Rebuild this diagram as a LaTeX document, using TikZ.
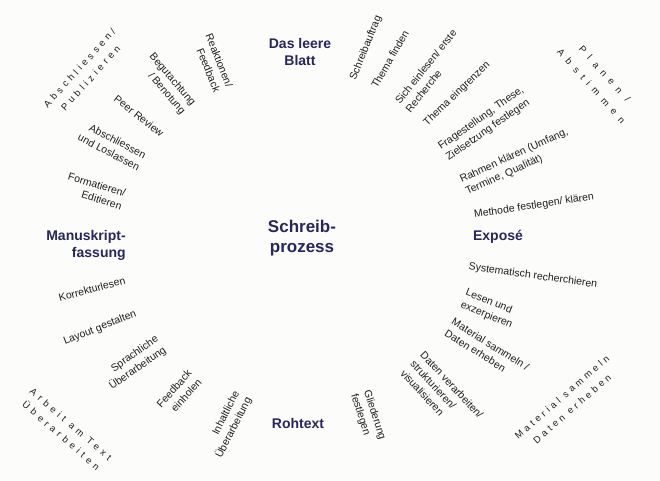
\documentclass[tikz,border=0pt]{standalone}
\usepackage{fontspec}
\setmainfont{Liberation Sans}
\newfontfamily\spacedA[LetterSpace=38]{Liberation Sans}
\newfontfamily\spacedB[LetterSpace=64]{Liberation Sans}
\newfontfamily\spacedC[LetterSpace=35]{Liberation Sans}
\newfontfamily\spacedD[LetterSpace=42]{Liberation Sans}
\definecolor{navy}{HTML}{27275F}
\definecolor{ink}{HTML}{1E1E1E}
\definecolor{paper}{HTML}{FCFCFA}
\begin{document}
\begin{tikzpicture}[x=1pt,y=-1pt,
  lbl/.style={font=\fontsize{10.5}{13.5}\selectfont, text=ink, inner sep=0pt},
  head/.style={font=\bfseries\fontsize{14}{17}\selectfont, text=navy, inner sep=0pt, align=center},
  big/.style={font=\bfseries\fontsize{17}{20}\selectfont, text=navy, inner sep=0pt, align=center},
  wide/.style={text=ink, inner sep=0pt, align=center}]
\fill[paper] (0,0) rectangle (660,480);
\useasboundingbox (0,0) rectangle (660,480);

% centre
\node[big] (centre) at (302,238) {Schreib-\\prozess};

% phase headings
\node[head] (blatt) at (300,52) {Das leere\\Blatt};
\node[head] (expose) at (498,237) {Exposé};
\node[head] (rohtext) at (298,423) {Rohtext};
\node[head, align=right] (manus) at (86,245) {Manuskript-\\fassung};

% spaced phase labels
\node[wide, rotate=48, font=\spacedA\fontsize{9.5}{15}\selectfont] (publ) at (85,73) {Abschliessen/\\Publizieren};
\node[wide, rotate=-48, font=\spacedB\fontsize{9.5}{18}\selectfont] (planen) at (598,80) {Planen /\\Abstimmen};
\node[wide, rotate=41, font=\spacedC\fontsize{9.5}{15.5}\selectfont] (matdat) at (567,403) {Material sammeln\\Daten erheben};
\node[wide, rotate=-41, font=\spacedD\fontsize{9.5}{15}\selectfont] (arbeit) at (66,430) {Arbeit am Text\\Überarbeiten};

% top right
\node[lbl, rotate=68] (auftrag) at (366,48) {Schreibauftrag};
\node[lbl, rotate=60] (finden) at (390,59) {Thema finden};
\node[lbl, rotate=51.5, align=left] (einlesen) at (431,71) {Sich einlesen/ erste\\Recherche};
\node[lbl, rotate=44] (eingrenzen) at (457,94) {Thema eingrenzen};
\node[lbl, rotate=35, align=left] (frage) at (485,124) {Fragestellung, These,\\Zielsetzung festlegen};
\node[lbl, rotate=24.5, align=left] (rahmen) at (517,162) {Rahmen klären (Umfang,\\Termine, Qualität)};
\node[lbl, rotate=8.5] (methode) at (534,206) {Methode festlegen/ klären};

% bottom right
\node[lbl, rotate=-8] (system) at (533,276) {Systematisch recherchieren};
\node[lbl, rotate=-22, align=left] (lesen) at (489,309) {Lesen und\\exzerpieren};
\node[lbl, rotate=-32, align=left] (material) at (487,350) {Material sammeln /\\Daten erheben};
\node[lbl, rotate=-47, align=left] (verarb) at (442,394) {Daten verarbeiten/\\strukturieren/\\visualisieren};
\node[lbl, rotate=-72, align=left] (glied) at (368,417) {Gliederung\\festlegen};

% bottom left
\node[lbl, rotate=63, align=right] (inhalt) at (228,425) {Inhaltliche\\Überarbeitung};
\node[lbl, rotate=48, align=right] (feedb) at (179,393) {Feedback\\einholen};
\node[lbl, rotate=35, align=right] (sprach) at (134,363) {Sprachliche\\Überarbeitung};
\node[lbl, rotate=21] (layout) at (100,328) {Layout gestalten};
\node[lbl, rotate=15] (korr) at (92,289) {Korrekturlesen};

% top left
\node[lbl, rotate=-17, align=right] (format) at (95,191) {Formatieren/\\Editieren};
\node[lbl, rotate=-27, align=right] (loslassen) at (112,146) {Abschliessen\\und Loslassen};
\node[lbl, rotate=-38] (peer) at (139,116) {Peer Review};
\node[lbl, rotate=-49.5, align=right] (begut) at (167,84) {Begutachtung\\/ Benotung};
\node[lbl, rotate=-68, align=right] (reakt) at (213,63) {Reaktionen/\\Feedback};
\end{tikzpicture}
\end{document}
